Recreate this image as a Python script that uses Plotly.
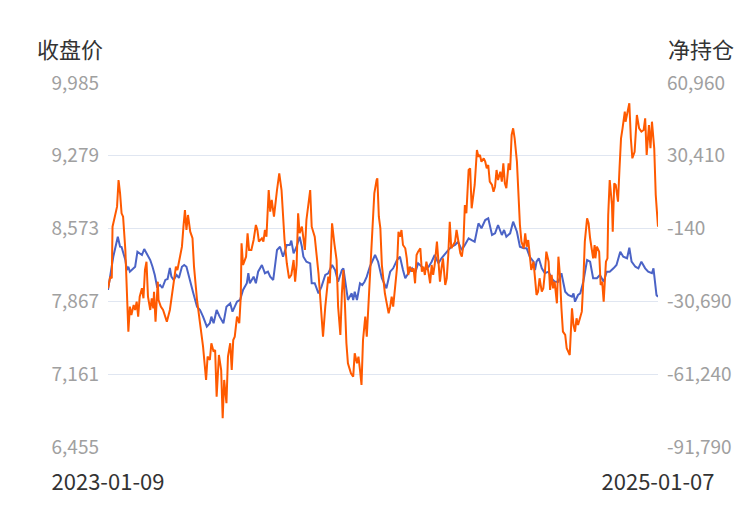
import pandas as pd
import plotly.graph_objects as go

START_DATE = "2023-01-09"
END_DATE = "2025-01-07"

# 收盘价 (left axis): days since START_DATE and closing price
price_days = [0,7,13,16,18,23,25,27,29,36,39,45,48,51,56,59,62,65,69,72,76,79,82,84,87,91,94,98,101,104,
              109,113,118,122,126,131,135,137,140,144,148,153,157,162,165,171,175,179,184,186,188,193,196,199,
              204,208,212,215,219,224,228,232,237,241,243,246,250,254,257,259,263,268,270,274,279,283,288,292,
              297,301,305,310,312,316,318,323,325,327,330,334,337,340,343,347,352,354,358,363,367,369,374,378,
              383,387,391,394,398,403,407,411,416,420,425,429,433,438,442,447,451,455,460,464,469,473,478,482,
              486,491,495,500,504,509,513,517,522,525,528,533,537,542,546,551,555,559,564,566,568,571,575,579,
              584,588,592,597,601,606,610,615,617,619,623,626,630,635,639,643,648,652,657,661,665,670,674,679,
              683,688,691,694,699,703,707,712,716,721,723,727,729]
price_values = [7978,8300,8494,8397,8394,8268,8171,8203,8155,8203,8349,8317,8375,8336,8268,8203,8123,8010,8026,7997,
                8075,8084,8191,8107,8075,8123,8094,8203,8220,8203,8045,7948,7816,7784,7719,7622,7655,7719,7655,7784,
                7719,7655,7816,7849,7767,7864,7881,7978,8043,8140,8043,8107,8043,8155,8220,8140,8155,8107,8075,8365,
                8397,8300,8414,8414,8456,8333,8397,8494,8397,8300,8252,8236,8043,8043,7945,8010,8123,8140,8220,8171,
                8058,8171,8188,7978,7881,7945,7881,7961,7881,8043,8026,8058,8107,8203,8285,8317,8252,8091,8026,7994,
                8155,8188,8268,8300,8171,8091,8140,8188,8140,8236,8203,8171,8203,8252,8317,8236,8285,8333,8365,8397,
                8414,8446,8365,8414,8479,8462,8446,8624,8576,8656,8673,8511,8527,8608,8511,8559,8494,8527,8640,8543,
                8397,8382,8382,8300,8252,8171,8252,8285,8188,8140,8155,8091,8058,8058,8140,7961,7929,7912,7945,7864,
                7929,7945,8058,8268,8252,8091,8091,8123,8058,8155,8155,8188,8220,8349,8300,8285,8388,8252,8203,8188,
                8252,8188,8155,8140,8188,7929,7912]

# 净持仓 (right axis): days since START_DATE and net position
net_days = [0,3,5,6,9,12,14,16,18,20,23,25,27,29,31,34,36,38,40,42,45,47,49,51,53,56,58,60,61,63,66,67,70,73,78,
            82,87,90,92,94,98,100,102,104,106,109,112,114,118,122,124,126,130,132,135,137,140,142,144,147,150,152,
            154,157,159,162,164,166,168,171,174,176,177,179,183,185,187,190,193,196,198,200,204,206,208,210,213,
            215,217,220,224,227,230,234,237,240,243,246,248,250,252,254,257,259,261,263,266,268,270,274,279,281,
            285,288,292,294,297,300,303,305,308,310,312,314,316,318,322,325,327,330,332,334,336,338,341,343,345,
            347,350,353,356,357,359,361,363,365,367,369,372,374,376,378,380,383,385,387,389,391,394,396,398,400,
            403,405,407,409,411,414,416,418,420,422,425,427,429,431,433,436,438,440,442,444,447,449,451,453,455,
            458,460,462,464,467,469,471,473,475,478,480,482,486,489,491,493,495,498,500,502,504,506,509,511,513,
            515,517,520,522,524,526,528,531,533,535,537,539,542,544,546,548,551,553,555,557,559,561,564,566,568,
            570,572,575,577,579,581,584,586,588,590,592,595,597,599,601,603,606,608,610,612,615,617,619,621,623,
            626,628,630,632,635,637,639,641,643,645,646,648,651,653,655,657,660,662,663,665,668,669,671,673,676,
            678,680,682,685,686,689,691,693,695,698,701,704,707,710,712,714,717,719,721,724,726,729]
net_values = [-25180,-20320,-20990,660,4860,9060,20260,14680,6290,4860,-9110,-23090,-43400,-32900,-36390,-32190,
              -34290,-30810,-37100,-28710,-25180,-29380,-17510,-14020,-28710,-34290,-29380,-33580,-26610,-39200,
              -22410,-30090,-32900,-34290,-39200,-34290,-23800,-16120,-17510,-14690,-7730,660,7670,-720,5570,-1440,
              -4200,-16120,-30090,-39870,-44070,-49690,-63660,-53880,-55270,-48260,-51790,-51070,-70670,-53170,
              -59470,-79730,-63660,-73440,-53880,-48260,-59470,-46880,-45490,-37100,-39870,-28710,-6300,-15410,
              -11920,-2110,-9110,-9110,-4920,1380,-720,-5630,-4200,-5630,-720,-3530,16060,6960,11870,4860,16060,
              23070,16060,-4920,-14690,-20990,-19600,-13310,-22410,-15410,6290,-2110,660,-4200,-9110,3470,10480,
              16060,660,-3530,-18890,-27280,-45490,-32900,-20320,-23090,2090,-6300,-13310,-32900,-44780,-27280,
              -17510,-31480,-48260,-56650,-60850,-62280,-52460,-56650,-53880,-59470,-65760,-46880,-37100,-45490,
              -34290,-23090,-2110,14680,20260,20970,4860,-10,-15410,-22410,-27280,-30810,-35670,-32900,-28710,
              -32900,-25180,-16790,-1440,-3530,-720,-7020,-8400,-12600,-19600,-16120,-18220,-16790,-23090,-11210,
              -9830,-8400,-18220,-16120,-19600,-14020,-18890,-23090,-15410,-19600,-15410,-5630,-14020,-22410,
              -16790,-12600,-23800,-20990,-11210,2760,-8400,-6300,-5630,-720,-4200,-10500,-11920,-7020,9770,6290,
              24450,25170,8380,18160,32850,30040,30750,27940,29360,27940,25170,26550,19550,18160,15350,17450,24450,
              20260,23740,19550,27270,18870,16780,27270,24450,39140,41950,37760,27940,11150,1380,-5630,-8400,-2110,
              -7730,-4920,-11210,-17510,-14020,-22410,-28000,-26610,-20990,-26610,-25180,-18890,-9830,-14020,
              -25900,-19600,-25180,-22410,-31480,-11920,-19600,-33580,-43400,-44780,-50360,-51790,-53170,-33580,
              -40580,-43400,-37770,-40580,-36390,-35000,-22410,-5630,4190,2090,-4200,-8400,-12600,-7020,-12600,
              -7730,-9830,-23800,-22410,-30810,-14020,-12600,5570,20260,9770,-1440,18870,18160,11150,25170,37760,
              41950,48920,44720,48920,52440,37760,29360,32130,47530,41950,40530,41240,46150,30750,43340,33560,
              44720,33560,13960,660]

left_ticks = [6455, 7161, 7867, 8573, 9279, 9985]
right_ticks = [-91790, -61240, -30690, -140, 30410, 60960]
x_tick_labels = [START_DATE, END_DATE]

start = pd.Timestamp(START_DATE)
price_dates = [start + pd.Timedelta(days=d) for d in price_days]
net_dates = [start + pd.Timedelta(days=d) for d in net_days]

FONT = "Noto Sans CJK SC, Noto Sans, sans-serif"
BLUE = "#4b63c6"
ORANGE = "#ff5a00"

fig = go.Figure()
fig.add_trace(go.Scatter(x=price_dates, y=price_values, mode="lines", name="收盘价",
                         line=dict(color=BLUE, width=2), yaxis="y"))
fig.add_trace(go.Scatter(x=net_dates, y=net_values, mode="lines", name="净持仓",
                         line=dict(color=ORANGE, width=2), yaxis="y2"))

fig.update_layout(
    width=750, height=510,
    margin=dict(l=108, r=92, t=83, b=63),
    paper_bgcolor="white", plot_bgcolor="white",
    showlegend=False,
    font=dict(family=FONT),
    xaxis=dict(
        type="date",
        range=[START_DATE, END_DATE],
        tickvals=x_tick_labels,
        ticktext=x_tick_labels,
        tickfont=dict(size=22, color="#333333"),
        showgrid=False, zeroline=False, showline=False,
        ticks="", ticklabelstandoff=20,
    ),
    yaxis=dict(
        range=[left_ticks[0], left_ticks[-1]],
        tickvals=left_ticks,
        ticktext=[f"{v:,}" for v in left_ticks],
        tickfont=dict(size=19, color="#a0a0a0"),
        showgrid=True, gridcolor="#E0E6F1", gridwidth=1,
        zeroline=False, showline=False, ticks="",
        ticklabelstandoff=8,
    ),
    yaxis2=dict(
        range=[right_ticks[0], right_ticks[-1]],
        tickvals=right_ticks,
        ticktext=[f"{v:,}" for v in right_ticks],
        tickfont=dict(size=19, color="#a0a0a0"),
        overlaying="y", side="right",
        showgrid=False, zeroline=False, showline=False, ticks="",
        ticklabelstandoff=8,
    ),
    annotations=[
        dict(text="收盘价", xref="paper", yref="paper", x=-0.133, y=1.0, yshift=35,
             xanchor="left", yanchor="middle", showarrow=False,
             font=dict(size=22, color="#333333", family=FONT)),
        dict(text="净持仓", xref="paper", yref="paper", x=1.0, xshift=8, y=1.0, yshift=35,
             xanchor="left", yanchor="middle", showarrow=False,
             font=dict(size=22, color="#333333", family=FONT)),
    ],
)

fig.write_html("out.html")
